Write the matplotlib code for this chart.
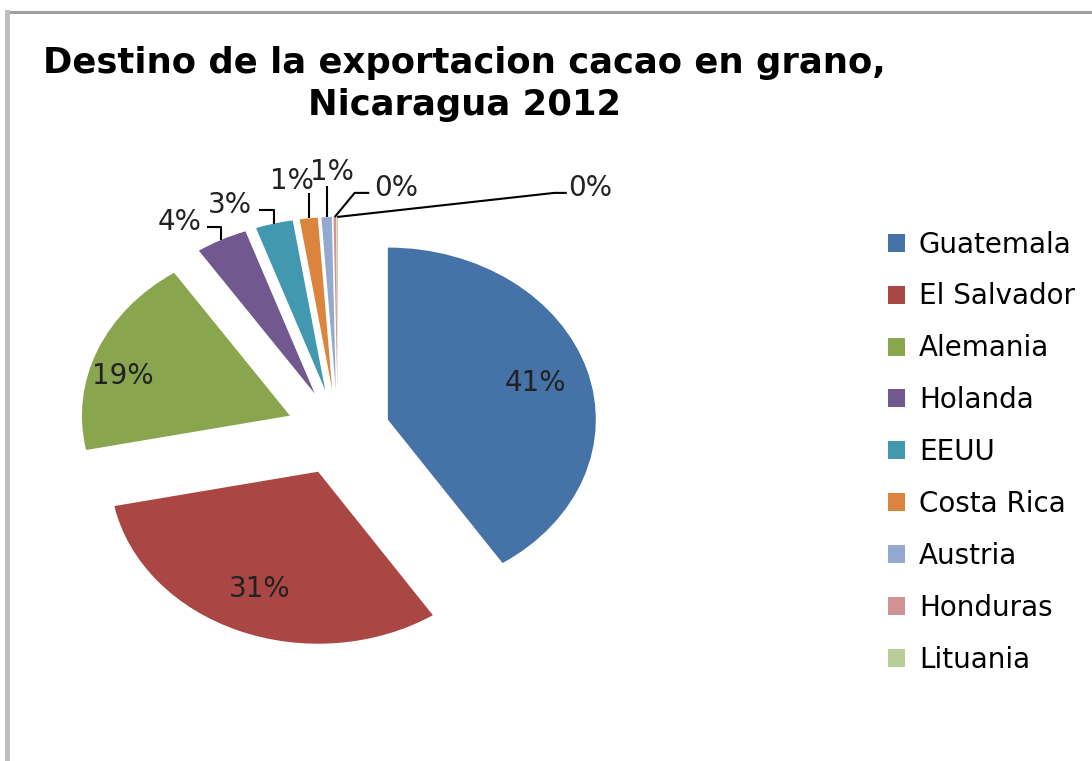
import numpy as np
import matplotlib
matplotlib.use('Agg')
from matplotlib import pyplot as plt
from matplotlib.lines import Line2D

# ── Data ──────────────────────────────────────────────────────────────────────
countries = ['Guatemala', 'El Salvador', 'Alemania', 'Holanda', 'EEUU',
             'Costa Rica', 'Austria', 'Honduras', 'Lituania']
shares = [40.7, 31.1, 18.8, 4.0, 2.9, 1.4, 0.8, 0.2, 0.1]   # % of exports
colors = ['#4572A7', '#AA4643', '#89A54E', '#71588F', '#4198AF',
          '#DB843D', '#93A9CF', '#D19392', '#B9CD96']
title = 'Destino de la exportacion cacao en grano,\nNicaragua 2012'

# outside label placement for the thin slices (data units), None = inside
label_pos = [None, None, None, (-0.76, 1.22), (-0.52, 1.32),
             (-0.22, 1.46), (-0.03, 1.51), (0.28, 1.42), (1.21, 1.42)]
# leader elbows (data units) between slice edge and label
elbows = [None, None, None,
          [(None, 1.19), (-0.63, 1.19)],
          [(None, 1.29), (-0.38, 1.29)],
          [(None, 1.39)],
          [(None, 1.43)],
          [(0.08, 1.39), (0.15, 1.39)],
          [(1.04, 1.39), (1.10, 1.39)]]

EXPLODE = 0.25
FS = 20

fig = plt.figure(figsize=(10.92, 7.61), dpi=100)
ax = fig.add_axes([0.0048, 0.0707, 0.6095, 0.7233])

wedges, texts, autotexts = ax.pie(
    shares, colors=colors, startangle=90, counterclock=False,
    explode=[EXPLODE] * len(shares), radius=1.0,
    autopct='%.0f%%', pctdistance=0.74,
    wedgeprops=dict(linewidth=0),
    textprops=dict(fontsize=FS, color='#222222'))

# nudge the Alemania label outward a little, like the original
autotexts[2].set_position((autotexts[2].get_position()[0] - 0.12,
                           autotexts[2].get_position()[1] - 0.05))

for i, (w, t) in enumerate(zip(wedges, autotexts)):
    if label_pos[i] is None:
        continue
    tx, ty = label_pos[i]
    t.set_position((tx, ty))
    t.set_ha('center')
    t.set_va('center')
    # anchor on the outer arc of the exploded wedge
    mid = np.deg2rad((w.theta1 + w.theta2) / 2)
    cx, cy = w.center
    ax_, ay_ = cx + w.r * np.cos(mid), cy + w.r * np.sin(mid)
    pts = [(ax_, ay_)]
    for ex, ey in elbows[i]:
        pts.append((ax_ if ex is None else ex, ey))
    xs, ys = zip(*pts)
    ax.plot(xs, ys, color='black', linewidth=1.5, clip_on=False,
            solid_capstyle='butt')

ax.set_aspect('auto')
ax.set_xlim(-1.6, 1.6)
ax.set_ylim(-1.6, 1.6)
ax.axis('off')

fig.text(0.425, 0.94, title, ha='center', va='top', fontsize=25.5,
         fontweight='bold', family='DejaVu Sans', linespacing=1.3)

fig.legend(wedges, countries, loc='upper left',
           bbox_to_anchor=(0.813, 0.697), frameon=False, fontsize=FS,
           handlelength=0.62, handleheight=0.62, handletextpad=0.5,
           labelspacing=0.86, borderaxespad=0, borderpad=0)

# chart frame remnants (top and left edge)
fig.add_artist(Line2D([0.006, 1.0], [0.984, 0.984], color='#A0A0A0',
                      linewidth=2.2, transform=fig.transFigure))
fig.add_artist(Line2D([0.006, 0.006], [0.0, 0.984], color='#BEBEBE',
                      linewidth=3.5, transform=fig.transFigure))

plt.savefig('out.png', dpi=100)
